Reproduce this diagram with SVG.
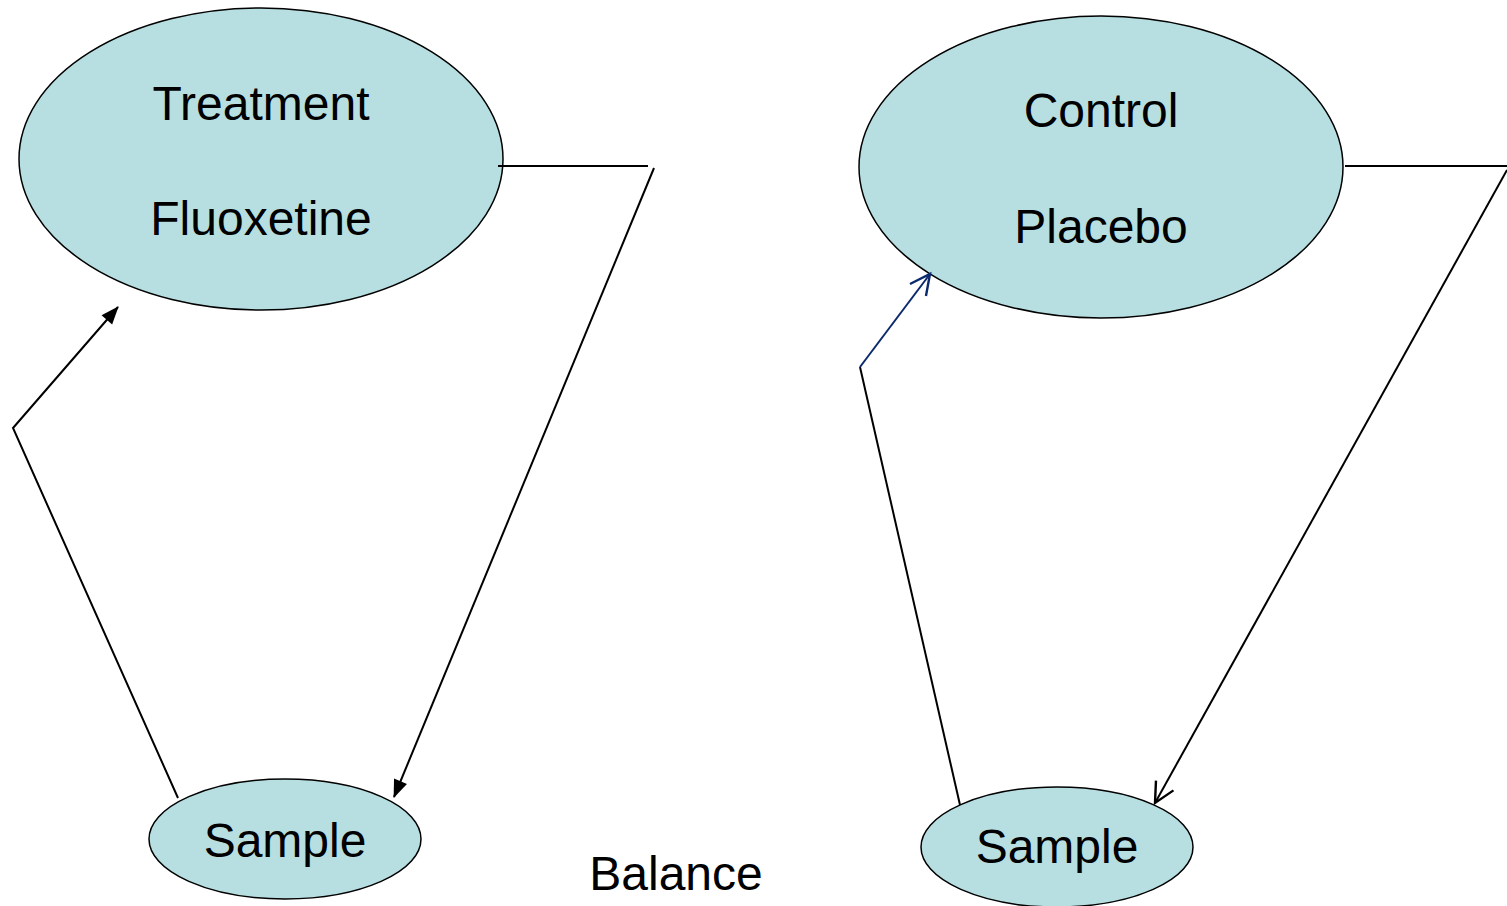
<svg xmlns="http://www.w3.org/2000/svg" width="1507" height="906" viewBox="0 0 1507 906">
  <defs>
    <style>
      .node { fill: #b7dfe1; stroke: #000; stroke-width: 1.5; }
      .label { font-family: "Liberation Sans", Arial, sans-serif; font-size: 48px; fill: #000; text-anchor: middle; }
      .conn { fill: none; stroke: #000; stroke-width: 2; }
      .blue { stroke: #0b2a6b; }
    </style>
    <marker id="solid" viewBox="0 0 18 14" refX="17" refY="7" markerWidth="18" markerHeight="14" markerUnits="userSpaceOnUse" orient="auto" overflow="visible">
      <path d="M0,0 L18,7 L0,14 z" fill="#000"/>
    </marker>
    <marker id="openBlack" viewBox="0 0 10 10" refX="10" refY="5" markerWidth="20" markerHeight="20" markerUnits="userSpaceOnUse" orient="auto" overflow="visible">
      <path d="M0,0 L10,5 L0,10" fill="none" stroke="#000" stroke-width="1.2"/>
    </marker>
    <marker id="openBlue" viewBox="0 0 10 10" refX="10" refY="5" markerWidth="20" markerHeight="20" markerUnits="userSpaceOnUse" orient="auto" overflow="visible">
      <path d="M0,0 L10,5 L0,10" fill="none" stroke="#0b2a6b" stroke-width="1.2"/>
    </marker>
  </defs>

  <rect width="1507" height="906" fill="#fff"/>

  <g id="treatment">
    <ellipse class="node" cx="261" cy="159" rx="242" ry="151"/>
    <text class="label" x="261" y="120">Treatment</text>
    <text class="label" x="261" y="235">Fluoxetine</text>
  </g>

  <g id="control">
    <ellipse class="node" cx="1101" cy="167" rx="242" ry="151"/>
    <text class="label" x="1101" y="127">Control</text>
    <text class="label" x="1101" y="243">Placebo</text>
  </g>

  <g id="sample-left">
    <ellipse class="node" cx="285" cy="839" rx="136" ry="60"/>
    <text class="label" x="285" y="857">Sample</text>
  </g>

  <g id="sample-right">
    <ellipse class="node" cx="1057" cy="847" rx="136" ry="60"/>
    <text class="label" x="1057" y="863">Sample</text>
  </g>

  <g id="balance">
    <text class="label" x="676" y="890">Balance</text>
  </g>

  <g id="connectors">
    <!-- treatment group: out to the right, down to its sample -->
    <line class="conn" x1="498" y1="166" x2="648" y2="166"/>
    <line class="conn" x1="654" y1="168" x2="394" y2="797" marker-end="url(#solid)"/>
    <!-- left sample back up to treatment -->
    <polyline class="conn" points="178,798 13,428 118,307" marker-end="url(#solid)"/>

    <!-- control group: out to the right, down to its sample -->
    <line class="conn" x1="1345" y1="166" x2="1507" y2="166"/>
    <line class="conn" x1="1507" y1="170" x2="1155" y2="803" marker-end="url(#openBlack)"/>
    <!-- right sample back up to control -->
    <line class="conn" x1="960" y1="805" x2="860" y2="367"/>
    <line class="conn blue" x1="860" y1="367" x2="930" y2="274" marker-end="url(#openBlue)"/>
  </g>
</svg>
